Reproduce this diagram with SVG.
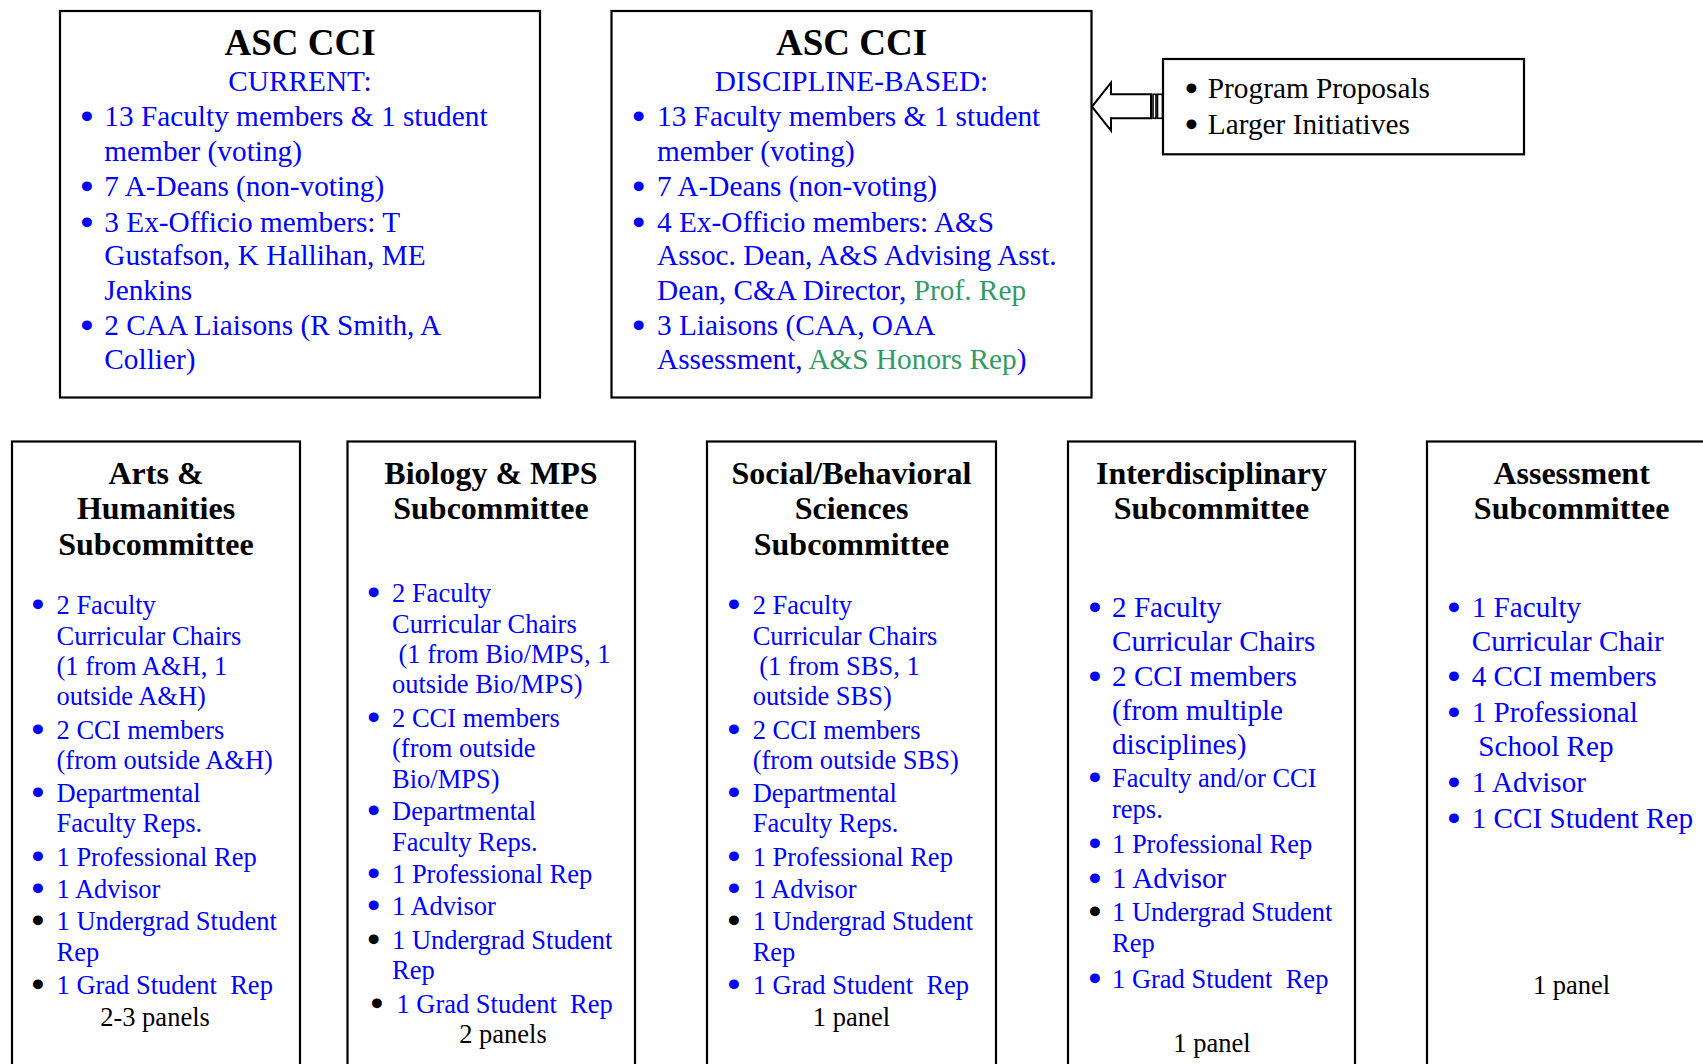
<svg xmlns="http://www.w3.org/2000/svg" width="1703" height="1064" viewBox="0 0 1703 1064">
<style>
text{font-family:"Liberation Serif","Times New Roman",serif;}
.box{fill:#fff;stroke:#000;stroke-width:2.2;}
.ttl{font-size:37px;font-weight:bold;fill:#000;text-anchor:middle;}
.sub{font-size:29.3px;fill:#0000ff;text-anchor:middle;}
.tb{font-size:29.3px;fill:#0000ff;}
.st{font-size:32px;font-weight:bold;fill:#000;text-anchor:middle;}
.sb{font-size:26.5px;fill:#0000ff;}
.lg{font-size:29.2px;fill:#0000ff;}
.k{fill:#000;}
.g{fill:#339966;}
.c{text-anchor:middle;}
.bu{text-anchor:middle;font-size:28px;stroke:#0000ff;stroke-width:3.2;stroke-linejoin:round;}
.bu.k{stroke:#000;}
</style>
<rect width="1703" height="1064" fill="#fff"/>

<g id="connectors">
<polygon points="1092,106.7 1111,82.7 1111,94.3 1151,94.3 1151,118.3 1111,118.3 1111,130.7" fill="#fff" stroke="#000" stroke-width="2"/>
<rect x="1153" y="94.3" width="3" height="24" fill="#fff" stroke="#000" stroke-width="1.6"/>
<rect x="1157.5" y="94.3" width="5" height="24" fill="#fff" stroke="#000" stroke-width="1.6"/>
</g>

<g id="asc-cci-current">
<rect class="box" x="60" y="11" width="480" height="386.5"/>
<text class="ttl" x="300" y="55">ASC CCI</text>
<text class="sub" x="300" y="90.7">CURRENT:</text>
<text class="tb bu" x="87" y="126.3">•</text>
<text class="tb" x="104.3" y="126.3">13 Faculty members &amp; 1 student</text>
<text class="tb" x="104.3" y="161.1">member (voting)</text>
<text class="tb bu" x="87" y="195.8">•</text>
<text class="tb" x="104.3" y="195.8">7 A-Deans (non-voting)</text>
<text class="tb bu" x="87" y="231.7">•</text>
<text class="tb" x="104.3" y="231.7">3 Ex-Officio members: T</text>
<text class="tb" x="104.3" y="265.3">Gustafson, K Hallihan, ME</text>
<text class="tb" x="104.3" y="300.1">Jenkins</text>
<text class="tb bu" x="87" y="334.8">•</text>
<text class="tb" x="104.3" y="334.8">2 CAA Liaisons (R Smith, A</text>
<text class="tb" x="104.3" y="368.5">Collier)</text>
</g>

<g id="asc-cci-discipline">
<rect class="box" x="611.5" y="11" width="480" height="386.5"/>
<text class="ttl" x="851.5" y="55">ASC CCI</text>
<text class="sub" x="851.5" y="90.7">DISCIPLINE-BASED:</text>
<text class="tb bu" x="638.6" y="126.3">•</text>
<text class="tb" x="657" y="126.3">13 Faculty members &amp; 1 student</text>
<text class="tb" x="657" y="161.1">member (voting)</text>
<text class="tb bu" x="638.6" y="195.8">•</text>
<text class="tb" x="657" y="195.8">7 A-Deans (non-voting)</text>
<text class="tb bu" x="638.6" y="231.7">•</text>
<text class="tb" x="657" y="231.7">4 Ex-Officio members: A&amp;S</text>
<text class="tb" x="657" y="265.3">Assoc. Dean, A&amp;S Advising Asst.</text>
<text class="tb" x="657" y="300.1">Dean, C&amp;A Director, <tspan class="g">Prof. Rep</tspan></text>
<text class="tb bu" x="638.6" y="334.8">•</text>
<text class="tb" x="657" y="334.8">3 Liaisons (CAA, OAA</text>
<text class="tb" x="657" y="368.5">Assessment, <tspan class="g">A&amp;S Honors Rep</tspan>)</text>
</g>

<g id="program-proposals">
<rect class="box" x="1163" y="59" width="361" height="95.3"/>
<text class="tb k bu" x="1191.5" y="98">•</text>
<text class="tb k" x="1207.8" y="98">Program Proposals</text>
<text class="tb k bu" x="1191.5" y="133.9">•</text>
<text class="tb k" x="1207.8" y="133.9">Larger Initiatives</text>
</g>

<g id="arts-humanities">
<rect class="box" x="12" y="441.5" width="288" height="640"/>
<text class="st" x="156" y="483.5">Arts &amp;</text>
<text class="st" x="156" y="519.4">Humanities</text>
<text class="st" x="156" y="555.2">Subcommittee</text>
<text class="sb bu" x="38" y="614">•</text>
<text class="sb" x="56.5" y="614">2 Faculty</text>
<text class="sb" x="56.5" y="644.5">Curricular Chairs</text>
<text class="sb" x="56.5" y="674.9">(1 from A&amp;H, 1</text>
<text class="sb" x="56.5" y="705.3">outside A&amp;H)</text>
<text class="sb bu" x="38" y="739">•</text>
<text class="sb" x="56.5" y="739">2 CCI members</text>
<text class="sb" x="56.5" y="769.4">(from outside A&amp;H)</text>
<text class="sb bu" x="38" y="801.9">•</text>
<text class="sb" x="56.5" y="801.9">Departmental</text>
<text class="sb" x="56.5" y="832.4">Faculty Reps.</text>
<text class="sb bu" x="38" y="866">•</text>
<text class="sb" x="56.5" y="866">1 Professional Rep</text>
<text class="sb bu" x="38" y="897.5">•</text>
<text class="sb" x="56.5" y="897.5">1 Advisor</text>
<text class="sb k bu" x="38" y="930">•</text>
<text class="sb" x="56.5" y="930">1 Undergrad Student</text>
<text class="sb" x="56.5" y="960.5">Rep</text>
<text class="sb k bu" x="38" y="994.2">•</text>
<text class="sb" x="56.5" y="994.2">1 Grad Student&#160; Rep</text>
<text class="sb k c" x="155" y="1025.7">2-3 panels</text>
</g>

<g id="biology-mps">
<rect class="box" x="347.5" y="441.5" width="287.5" height="640"/>
<text class="st" x="491" y="483.5">Biology &amp; MPS</text>
<text class="st" x="491" y="519.4">Subcommittee</text>
<text class="sb bu" x="373.6" y="602.1">•</text>
<text class="sb" x="392" y="602.1">2 Faculty</text>
<text class="sb" x="392" y="632.5">Curricular Chairs</text>
<text class="sb" x="398.5" y="662.9">(1 from Bio/MPS, 1</text>
<text class="sb" x="392" y="693.3">outside Bio/MPS)</text>
<text class="sb bu" x="373.6" y="727">•</text>
<text class="sb" x="392" y="727">2 CCI members</text>
<text class="sb" x="392" y="757.4">(from outside</text>
<text class="sb" x="392" y="787.8">Bio/MPS)</text>
<text class="sb bu" x="373.6" y="820.4">•</text>
<text class="sb" x="392" y="820.4">Departmental</text>
<text class="sb" x="392" y="850.8">Faculty Reps.</text>
<text class="sb bu" x="373.6" y="883.4">•</text>
<text class="sb" x="392" y="883.4">1 Professional Rep</text>
<text class="sb bu" x="373.6" y="914.9">•</text>
<text class="sb" x="392" y="914.9">1 Advisor</text>
<text class="sb k bu" x="373.6" y="948.6">•</text>
<text class="sb" x="392" y="948.6">1 Undergrad Student</text>
<text class="sb" x="392" y="979">Rep</text>
<text class="sb k bu" x="377" y="1012.6">•</text>
<text class="sb" x="396.4" y="1012.6">1 Grad Student&#160; Rep</text>
<text class="sb k c" x="503" y="1043">2 panels</text>
</g>

<g id="social-behavioral">
<rect class="box" x="707" y="441.5" width="289" height="640"/>
<text class="st" x="851.5" y="483.5">Social/Behavioral</text>
<text class="st" x="851.5" y="519.4">Sciences</text>
<text class="st" x="851.5" y="555.2">Subcommittee</text>
<text class="sb bu" x="734" y="614">•</text>
<text class="sb" x="752.7" y="614">2 Faculty</text>
<text class="sb" x="752.7" y="644.5">Curricular Chairs</text>
<text class="sb" x="759.2" y="674.9">(1 from SBS, 1</text>
<text class="sb" x="752.7" y="705.3">outside SBS)</text>
<text class="sb bu" x="734" y="739">•</text>
<text class="sb" x="752.7" y="739">2 CCI members</text>
<text class="sb" x="752.7" y="769.4">(from outside SBS)</text>
<text class="sb bu" x="734" y="801.9">•</text>
<text class="sb" x="752.7" y="801.9">Departmental</text>
<text class="sb" x="752.7" y="832.4">Faculty Reps.</text>
<text class="sb bu" x="734" y="866">•</text>
<text class="sb" x="752.7" y="866">1 Professional Rep</text>
<text class="sb bu" x="734" y="897.5">•</text>
<text class="sb" x="752.7" y="897.5">1 Advisor</text>
<text class="sb k bu" x="734" y="930">•</text>
<text class="sb" x="752.7" y="930">1 Undergrad Student</text>
<text class="sb" x="752.7" y="960.5">Rep</text>
<text class="sb bu" x="734" y="994.2">•</text>
<text class="sb" x="752.7" y="994.2">1 Grad Student&#160; Rep</text>
<text class="sb k c" x="851.5" y="1025.7">1 panel</text>
</g>

<g id="interdisciplinary">
<rect class="box" x="1068" y="441.5" width="287" height="640"/>
<text class="st" x="1211.5" y="483.5">Interdisciplinary</text>
<text class="st" x="1211.5" y="519.4">Subcommittee</text>
<text class="lg bu" x="1095" y="617.2">•</text>
<text class="lg" x="1112" y="617.2">2 Faculty</text>
<text class="lg" x="1112" y="650.9">Curricular Chairs</text>
<text class="lg bu" x="1095" y="685.6">•</text>
<text class="lg" x="1112" y="685.6">2 CCI members</text>
<text class="lg" x="1112" y="720.4">(from multiple</text>
<text class="lg" x="1112" y="754.1">disciplines)</text>
<text class="sb bu" x="1095" y="786.7">•</text>
<text class="sb" x="1112" y="786.7">Faculty and/or CCI</text>
<text class="sb" x="1112" y="818.2">reps.</text>
<text class="sb bu" x="1095" y="853">•</text>
<text class="sb" x="1112" y="853">1 Professional Rep</text>
<text class="lg bu" x="1095" y="887.7">•</text>
<text class="lg" x="1112" y="887.7">1 Advisor</text>
<text class="sb k bu" x="1095" y="921.4">•</text>
<text class="sb" x="1112" y="921.4">1 Undergrad Student</text>
<text class="sb" x="1112" y="951.8">Rep</text>
<text class="sb bu" x="1095" y="987.7">•</text>
<text class="sb" x="1112" y="987.7">1 Grad Student&#160; Rep</text>
<text class="sb k c" x="1212" y="1051.7">1 panel</text>
</g>

<g id="assessment">
<rect class="box" x="1427" y="441.5" width="300" height="640"/>
<text class="st" x="1571.6" y="483.5">Assessment</text>
<text class="st" x="1571.6" y="519.4">Subcommittee</text>
<text class="lg bu" x="1454" y="617.2">•</text>
<text class="lg" x="1471.7" y="617.2">1 Faculty</text>
<text class="lg" x="1471.7" y="650.9">Curricular Chair</text>
<text class="lg bu" x="1454" y="685.6">•</text>
<text class="lg" x="1471.7" y="685.6">4 CCI members</text>
<text class="lg bu" x="1454" y="721.5">•</text>
<text class="lg" x="1471.7" y="721.5">1 Professional</text>
<text class="lg" x="1478.2" y="756.2">School Rep</text>
<text class="lg bu" x="1454" y="792.1">•</text>
<text class="lg" x="1471.7" y="792.1">1 Advisor</text>
<text class="lg bu" x="1454" y="827.9">•</text>
<text class="lg" x="1471.7" y="827.9">1 CCI Student Rep</text>
<text class="sb k c" x="1571.6" y="994.2">1 panel</text>
</g>
</svg>
